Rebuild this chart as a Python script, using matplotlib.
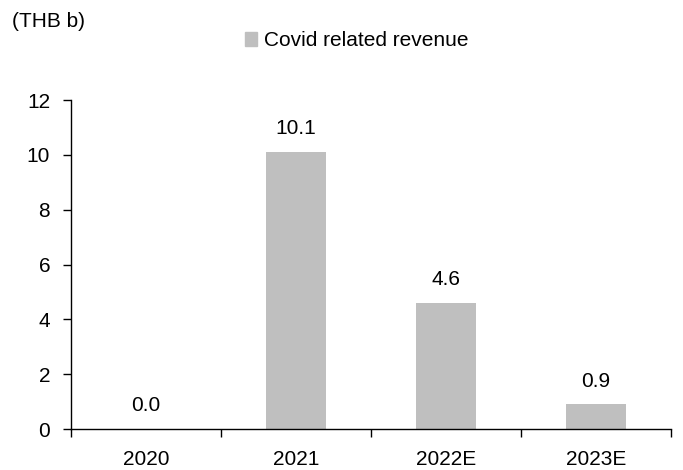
import matplotlib.pyplot as plt
from matplotlib.patches import Patch

plt.rcParams['font.family'] = ['Liberation Sans', 'DejaVu Sans']

years = ['2020', '2021', '2022E', '2023E']
revenue = [0.0, 10.1, 4.6, 0.9]
bar_color = '#bfbfbf'
fs = 15

fig = plt.figure(figsize=(6.83, 4.7), dpi=100)
ax = fig.add_axes([0.104, 0.087, 0.878, 0.700])

x = list(range(len(years)))
ax.bar(x, revenue, width=0.4, color=bar_color)

for xi, v in zip(x, revenue):
    ax.text(xi, v + 0.5, f'{v:.1f}', ha='center', va='bottom', fontsize=fs)

ax.set_xlim(-0.5, len(years) - 0.5)
ax.set_ylim(0, 12)
ax.set_yticks(range(0, 13, 2))
ax.tick_params(axis='y', labelsize=fs, length=6, width=1, direction='out', pad=9)

# category labels centered, tick marks on category boundaries
ax.set_xticks(x)
ax.set_xticklabels(years, fontsize=fs)
ax.tick_params(axis='x', which='major', length=0, pad=15)
ax.set_xticks([i - 0.5 for i in range(len(years) + 1)], minor=True)
ax.tick_params(axis='x', which='minor', length=6, width=1, direction='out')

for s in ['top', 'right']:
    ax.spines[s].set_visible(False)
ax.spines['left'].set_linewidth(1)
ax.spines['bottom'].set_linewidth(1)

fig.text(0.018, 0.955, '(THB b)', fontsize=fs, va='center')
fig.legend(handles=[Patch(color=bar_color, label='Covid related revenue')],
           loc='center', bbox_to_anchor=(0.522, 0.913), frameon=False,
           fontsize=fs, handlelength=0.6, handleheight=0.6, handletextpad=0.3)

fig.savefig('out.png', dpi=100)
